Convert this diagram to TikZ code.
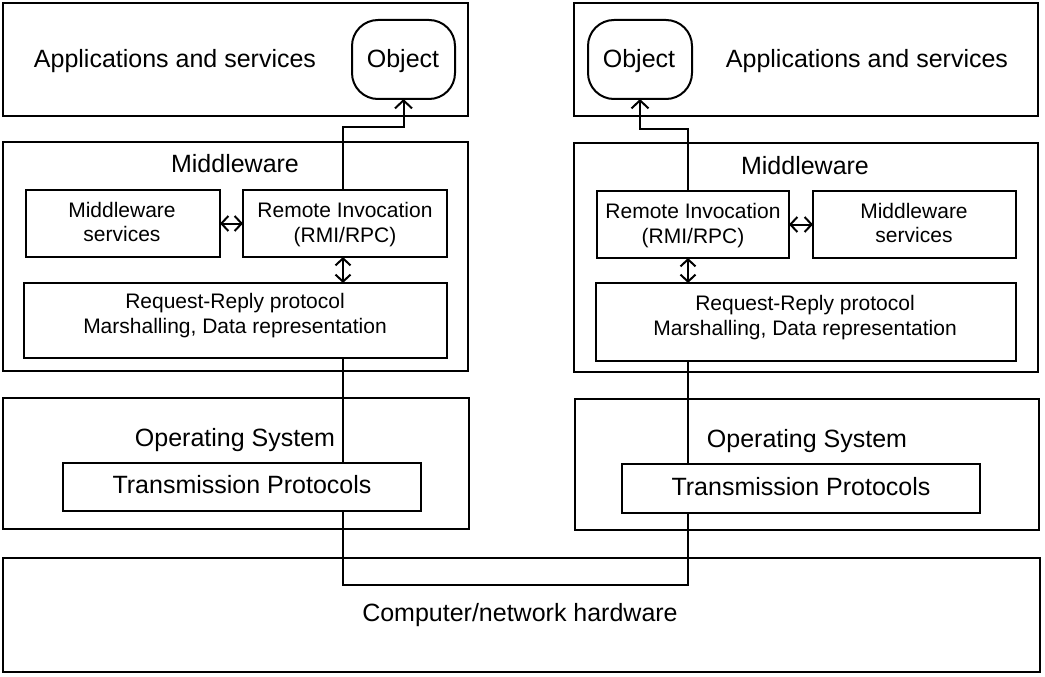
\documentclass[tikz,border=0pt]{standalone}
\usepackage{fontspec}
\setmainfont{Liberation Sans}
\usetikzlibrary{arrows.meta}
\newcommand\bx[6]{\node[box, minimum width={#4pt-#2pt}, minimum height={#5pt-#3pt}, #6] (#1) at ({(#2+#4)/2},{(#3+#5)/2}) {};}
\begin{document}
\begin{tikzpicture}[x=1pt,y=-1pt,
  box/.style={draw, line width=2pt, inner sep=0pt, outer sep=0pt},
  big/.style={font=\fontsize{25}{30}\selectfont, anchor=base, inner sep=0pt},
  small/.style={font=\fontsize{21}{25}\selectfont, anchor=base, inner sep=0pt},
  link/.style={line width=2pt},
  tip/.style={link, -{Straight Barb[length=8pt,width=17pt]}},
  dbl/.style={link, {Straight Barb[length=7pt,width=15pt]}-{Straight Barb[length=7pt,width=15pt]}}]
\useasboundingbox (0,0) rectangle (1045,677);
\fill[white] (0,0) rectangle (1045,677);
% left stack
\bx{appL}{3}{3}{468}{116}{}
\bx{objL}{352}{20}{455}{99}{rounded corners=26pt}
\bx{mwL}{3}{142}{468}{371}{}
\bx{msL}{26}{190}{220}{257}{}
\bx{riL}{243}{190}{447}{257}{}
\bx{rrL}{24}{283}{447}{358}{}
\bx{osL}{3}{398}{469}{529}{}
\bx{tpL}{63}{463}{421}{511}{}
% right stack
\bx{appR}{574}{3}{1038}{116}{}
\bx{objR}{588}{20}{692}{99}{rounded corners=26pt}
\bx{mwR}{574}{143}{1038}{372}{}
\bx{riR}{597}{191}{789}{258}{}
\bx{msR}{813}{191}{1016}{258}{}
\bx{rrR}{596}{283}{1016}{361}{}
\bx{osR}{575}{399}{1039}{530}{}
\bx{tpR}{622}{464}{980}{513}{}
% hardware
\bx{hw}{3}{558}{1040}{672}{}
% texts
\node[big] (appLt) at (175,67) {Applications and services};
\node[big] (appRt) at (867,67) {Applications and services};
\node[big] (objLt) at (403,67) {Object};
\node[big] (objRt) at (639,67) {Object};
\node[big] (mwLt) at (235,172) {Middleware};
\node[big] (mwRt) at (805,174) {Middleware};
\node[small] (msLt1) at (122,217) {Middleware};
\node[small] (msLt2) at (122,241) {services};
\node[small] (riLt1) at (345,217) {Remote Invocation};
\node[small] (riLt2) at (345,242) {(RMI/RPC)};
\node[small] (riRt1) at (693,218) {Remote Invocation};
\node[small] (riRt2) at (693,243) {(RMI/RPC)};
\node[small] (msRt1) at (914,218) {Middleware};
\node[small] (msRt2) at (914,242) {services};
\node[small] (rrLt1) at (235,308) {Request-Reply protocol};
\node[small] (rrLt2) at (235,333) {Marshalling, Data representation};
\node[small] (rrRt1) at (805,310) {Request-Reply protocol};
\node[small] (rrRt2) at (805,335) {Marshalling, Data representation};
\node[big] (osLt) at (235,446) {Operating System};
\node[big] (osRt) at (807,447) {Operating System};
\node[big] (tpLt) at (242,493) {Transmission Protocols};
\node[big] (tpRt) at (801,495) {Transmission Protocols};
\node[big] (hwt) at (520,621) {Computer/network hardware};
% connectors
\coordinate (jL) at (343,127);
\coordinate (jR) at (688,129);
\coordinate (bL) at (343,585);
\coordinate (bR) at (688,585);
\draw[tip] (jL |- riL.north) -- (jL) -| (objL.south);
\draw[tip] (jR |- riR.north) -- (jR) -| (objR.south);
\draw[dbl] (jL |- riL.south) -- (jL |- rrL.north);
\draw[dbl] (jR |- riR.south) -- (jR |- rrR.north);
\draw[dbl] (msL.east) -- (riL.west);
\draw[dbl] (riR.east) -- (msR.west);
\draw[link] (jL |- rrL.south) -- (jL |- tpL.north);
\draw[link] (jR |- rrR.south) -- (jR |- tpR.north);
\draw[link] (jL |- tpL.south) -- (bL) -- (bR) -- (jR |- tpR.south);
\end{tikzpicture}
\end{document}
